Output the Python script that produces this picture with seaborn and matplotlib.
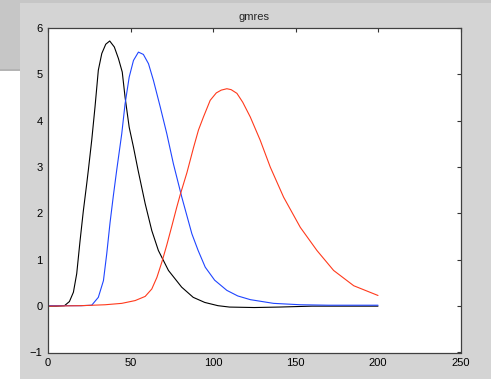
import matplotlib
matplotlib.use("Agg")
import numpy as np
import pandas as pd
import seaborn as sns
import matplotlib.pyplot as plt
from matplotlib.patches import Rectangle

# valores (curvas do "gmres")
black_x = [0, 5, 10, 13, 15.4, 17.4, 19.4, 21.4, 23.5, 24.5, 26.5, 28.5, 30.5, 32.6,
           35, 37.4, 40.2, 42.7, 45, 46.7, 49.2, 51.8, 54.6, 58.9, 62.9, 66.9, 73,
           81, 88, 95, 103, 110, 125, 140, 160, 200]
black_y = [0, 0, 0.01, 0.1, 0.3, 0.7, 1.4, 2.05, 2.65, 2.95, 3.58, 4.3, 5.09, 5.45,
           5.65, 5.72, 5.59, 5.34, 5.05, 4.51, 3.86, 3.43, 2.93, 2.21, 1.63, 1.2,
           0.77, 0.41, 0.19, 0.08, 0.01, -0.02, -0.03, -0.02, 0, 0]

blue_x = [0, 10, 20, 26.5, 30.5, 33.6, 35.6, 37.6, 39.6, 41.7, 44.7, 46.7, 49.2,
          51.8, 54.8, 57.8, 60.9, 63.9, 68, 72, 76, 81.1, 87.2, 91, 95.3, 101,
          108.4, 115, 122.6, 136.7, 152.9, 170, 200]
blue_y = [0.01, 0.01, 0.01, 0.02, 0.19, 0.55, 1.13, 1.8, 2.38, 2.95, 3.72, 4.36,
          4.94, 5.3, 5.48, 5.43, 5.23, 4.87, 4.3, 3.72, 3.07, 2.35, 1.56, 1.2, 0.84,
          0.56, 0.34, 0.22, 0.14, 0.06, 0.03, 0.02, 0.02]

red_x = [0, 20, 34.6, 44.7, 52.8, 58.9, 62.9, 66, 69, 72, 75, 78, 80.1, 84.2, 88.2,
         91.2, 94.2, 98.3, 102, 105, 108.4, 111, 114.5, 118, 122.6, 128.6, 134.7,
         142.8, 152.9, 163, 173.1, 185.3, 200]
red_y = [0, 0.01, 0.03, 0.06, 0.12, 0.21, 0.37, 0.62, 0.95, 1.32, 1.72, 2.13, 2.4,
         2.88, 3.42, 3.8, 4.08, 4.44, 4.6, 4.66, 4.69, 4.67, 4.59, 4.4, 4.08, 3.58,
         3.0, 2.35, 1.7, 1.2, 0.77, 0.44, 0.23]

x_ticks = [0, 50, 100, 150, 200, 250]
y_ticks = [-1, 0, 1, 2, 3, 4, 5, 6]

df = pd.concat([
    pd.DataFrame({'x': black_x, 'y': black_y, 'curva': 'preto'}),
    pd.DataFrame({'x': blue_x, 'y': blue_y, 'curva': 'azul'}),
    pd.DataFrame({'x': red_x, 'y': red_y, 'curva': 'vermelho'}),
])

sns.set_style("white")
plt.rcParams['font.family'] = ['Liberation Sans', 'DejaVu Sans']

W, H = 497, 379
fig = plt.figure(figsize=(W / 100, H / 100), dpi=100, facecolor='white')

# fundo tipo janela do MATLAB
def px_rect(x0, y0, x1, y1, color):
    fig.patches.append(Rectangle((x0 / W, 1 - y1 / H), (x1 - x0) / W, (y1 - y0) / H,
                                 transform=fig.transFigure, facecolor=color,
                                 edgecolor='none', zorder=-10))

px_rect(0, 0, 491, 3, '#c6c6c6')
px_rect(0, 0, 20, 71, '#c6c6c6')
px_rect(0, 69, 20, 71, '#b4b4b4')
px_rect(20, 3, 491, 379, '#d4d4d4')

ax = fig.add_axes([48 / W, 1 - 352.5 / H, 412.5 / W, 324.5 / H])
ax.set_facecolor('white')

sns.lineplot(data=df, x='x', y='y', hue='curva', sort=False, estimator=None,
             palette={'preto': '#000000', 'azul': '#1f45ff', 'vermelho': '#ff3a1c'},
             linewidth=0.8, legend=False, ax=ax)

ax.set_xlim(0, 250)
ax.set_ylim(-1, 6)
ax.set_xticks(x_ticks)
ax.set_yticks(y_ticks)
ax.set_xlabel('')
ax.set_ylabel('')
ax.set_title('gmres', fontsize=8, pad=6)

ax.tick_params(direction='in', length=3, width=0.8, labelsize=8, colors='#333333',
               labelcolor='black', top=True, right=True, pad=4)
for s in ax.spines.values():
    s.set_color('#404040')
    s.set_linewidth(0.9)

fig.savefig('out.png', dpi=100, facecolor=fig.get_facecolor())
